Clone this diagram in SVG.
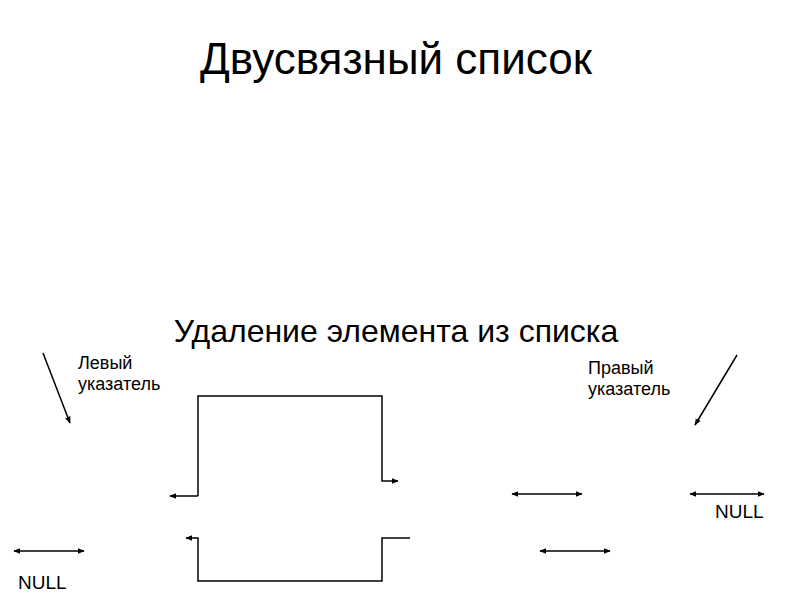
<svg xmlns="http://www.w3.org/2000/svg" width="794" height="595" viewBox="0 0 794 595">
<style>
.t{font-family:"Liberation Sans",Arial,sans-serif;fill:#000}
.l{stroke:#000;stroke-width:1.5;fill:none}
</style>
<defs>
<marker id="a" viewBox="0 0 10 10" refX="9" refY="5" markerWidth="7" markerHeight="7" orient="auto-start-reverse" markerUnits="userSpaceOnUse"><path d="M0,1 L10,5 L0,9 Z" fill="#000"/></marker>
</defs>
<rect width="794" height="595" fill="#fff"/>
<g id="title"><text class="t" x="396" y="74" font-size="44" text-anchor="middle">Двусвязный список</text></g>
<g id="subtitle"><text class="t" x="396" y="342" font-size="32" text-anchor="middle">Удаление элемента из списка</text></g>
<g id="left-label"><text class="t" font-size="18"><tspan x="78" y="369">Левый</tspan><tspan x="78" y="390">указатель</tspan></text></g>
<g id="right-label"><text class="t" font-size="18"><tspan x="588" y="374">Правый</tspan><tspan x="588" y="395">указатель</tspan></text></g>
<g id="null-left"><text class="t" x="18" y="589" font-size="19">NULL</text></g>
<g id="null-right"><text class="t" x="715" y="518" font-size="19">NULL</text></g>
<g id="connectors">
<line class="l" x1="43" y1="353" x2="70" y2="423" marker-end="url(#a)"/>
<line class="l" x1="737" y1="355" x2="695" y2="425" marker-end="url(#a)"/>
<polyline class="l" points="198,496 198,396 382,396 382,481 398,481" marker-end="url(#a)"/>
<line class="l" x1="198" y1="496" x2="170" y2="496" stroke-width="2.5" marker-end="url(#a)"/>
<polyline class="l" points="410,538 382,538 382,581 198,581 198,538 186,538" marker-end="url(#a)"/>
<line class="l" x1="14" y1="551" x2="84" y2="551" marker-start="url(#a)" marker-end="url(#a)"/>
<line class="l" x1="512" y1="494" x2="582" y2="494" marker-start="url(#a)" marker-end="url(#a)"/>
<line class="l" x1="540" y1="551" x2="610" y2="551" marker-start="url(#a)" marker-end="url(#a)"/>
<line class="l" x1="690" y1="494" x2="764" y2="494" marker-start="url(#a)" marker-end="url(#a)"/>
</g>
</svg>
